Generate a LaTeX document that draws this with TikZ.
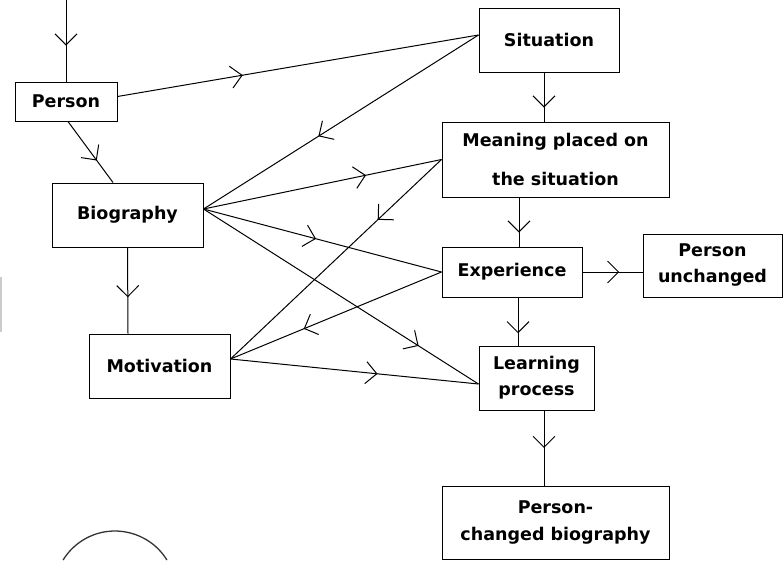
\documentclass[tikz,border=0pt]{standalone}
\usepackage{fontspec}
\setmainfont{DejaVu Sans}
\usetikzlibrary{decorations.markings}

\tikzset{
  box/.style={draw,line width=1pt,inner sep=0pt,align=center,
    font=\bfseries\fontsize{17.5}{26}\selectfont},
  arr/.style={line width=1pt,postaction={decorate},
    decoration={markings,mark=at position #1 with
      {\draw[line width=1pt] (-11pt,11pt) -- (0pt,0pt) -- (-11pt,-11pt);}}}
}

\begin{document}
\begin{tikzpicture}[x=1pt,y=1pt]
      \useasboundingbox (0,0) rectangle (784,-560);
      \node[box,minimum width=102pt,minimum height=39pt] (per) at (66,-101.5) {Person};
      \node[box,minimum width=140pt,minimum height=64pt] (sit) at (549,-40) {Situation};
      \node[box,minimum width=227pt,minimum height=75pt] (mean) at (555.5,-159.5) {Meaning placed on\\[13pt]the situation};
      \node[box,minimum width=151pt,minimum height=64pt] (bio) at (127.5,-215) {Biography};
      \node[box,minimum width=140pt,minimum height=50pt] (exp) at (512,-272) {Experience};
      \node[box,minimum width=139pt,minimum height=63pt] (unch) at (712.5,-265.5) {Person\\unchanged};
      \node[box,minimum width=141pt,minimum height=64pt] (mot) at (159.5,-366) {Motivation};
      \node[box,minimum width=115pt,minimum height=64pt] (learn) at (536.5,-378) {Learning\\process};
      \node[box,minimum width=227pt,minimum height=73pt] (chg) at (555.5,-522.5) {Person-\\changed biography};
      \coordinate (in) at (66,0);
      %% Vertical arrows
      \draw[arr=0.55] (in) -- (per.north);
      \draw[arr=0.63] ([xshift=2pt]per.south) -- ([xshift=-14.5pt]bio.north);
      \draw[arr=0.57] (bio.south) -- ([xshift=-31.5pt]mot.north);
      \draw[arr=0.7] ([xshift=-5pt]sit.south) -- ([xshift=-11.5pt]mean.north);
      \draw[arr=0.7] ([xshift=-36.5pt]mean.south) -- ([xshift=7pt]exp.north);
      \draw[arr=0.73] ([xshift=6pt]exp.south) -- ([xshift=-18.5pt]learn.north);
      \draw[arr=0.49] ([xshift=7.5pt]learn.south) -- ([xshift=-11.5pt]chg.north);
      %% Horizontal arrow
      \draw[arr=0.6] (exp.east) -- (exp.east -| unch.west);
      %% Cross links
      \draw[arr=0.345] ([yshift=5pt]per.east) -- ([yshift=5pt]sit.west);
      \draw[arr=0.58] ([yshift=5pt]sit.west) -- ([yshift=6pt]bio.east);
      \draw[arr=0.68] ([yshift=6pt]bio.east) -- (mean.west);
      \draw[arr=0.47] ([yshift=6pt]bio.east) -- (exp.west);
      \draw[arr=0.78] ([yshift=6pt]bio.east) -- ([yshift=-6pt]learn.west);
      \draw[arr=0.30] (mean.west) -- ([yshift=7pt]mot.east);
      \draw[arr=0.65] (exp.west) -- ([yshift=7pt]mot.east);
      \draw[arr=0.59] ([yshift=7pt]mot.east) -- ([yshift=-6pt]learn.west);
      %% edge bits
      \fill[black!20] (0,-277) rectangle (2,-332);
      \draw[line width=1.3pt,black!80] (115,-592) ++(31.6:61) arc (31.6:148.4:61);
\end{tikzpicture}
\end{document}
